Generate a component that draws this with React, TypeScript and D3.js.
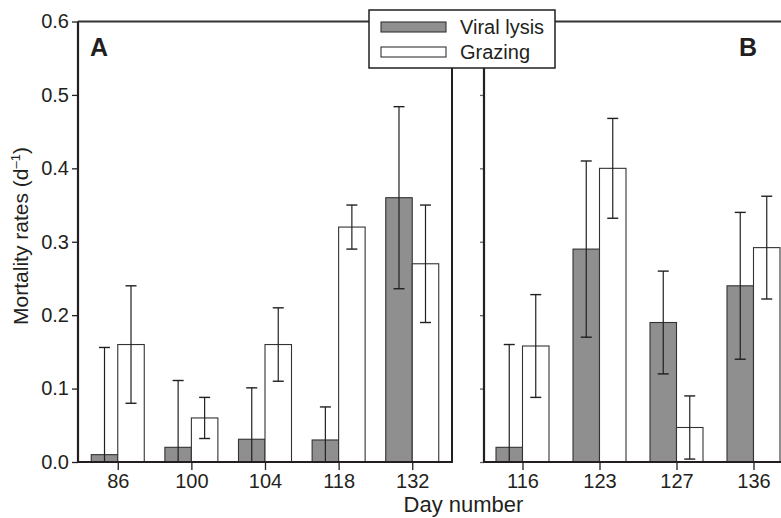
import React, { useEffect, useRef } from 'react';
import * as d3 from 'd3';

// panel A
const daysA = ['86', '100', '104', '118', '132'];
const viralA = [0.01, 0.02, 0.031, 0.03, 0.36];
const viralErrA = [0.146, 0.091, 0.07, 0.045, 0.124];
const grazingA = [0.16, 0.06, 0.16, 0.32, 0.27];
const grazingErrA = [0.08, 0.028, 0.05, 0.03, 0.08];

// panel B
const daysB = ['116', '123', '127', '136'];
const viralB = [0.02, 0.29, 0.19, 0.24];
const viralErrB = [0.14, 0.12, 0.07, 0.1];
const grazingB = [0.158, 0.4, 0.047, 0.292];
const grazingErrB = [0.07, 0.068, 0.043, 0.07];

const yTicks = [0, 0.1, 0.2, 0.3, 0.4, 0.5, 0.6];
const seriesNames = ['Viral lysis', 'Grazing'];

const FONT = '"Liberation Sans", Arial, Helvetica, sans-serif';
const GREY = '#8f8f8f';
const INK = '#231f20';

const App = () => {
  const svgRef = useRef<SVGSVGElement>(null);

  useEffect(() => {
    const svg = d3.select(svgRef.current);
    svg.selectAll('*').remove();

    const y = d3.scaleLinear().domain([0, 0.6]).range([462, 21.5]);
    const barW = 26.5;

    const panels = [
      { days: daysA, viral: viralA, viralErr: viralErrA, grazing: grazingA, grazingErr: grazingErrA, x0: 78, x1: 452, pad: 0.54, label: 'A', labelX: 90, labels: true, box: true },
      { days: daysB, viral: viralB, viralErr: viralErrB, grazing: grazingB, grazingErr: grazingErrB, x0: 484, x1: 792, pad: 0.5, label: 'B', labelX: 739, labels: false, box: false },
    ];

    panels.forEach(p => {
      const x = d3.scalePoint().domain(p.days).range([p.x0, p.x1]).padding(p.pad);
      const g = svg.append('g');

      const series = [
        { vals: p.viral, errs: p.viralErr, fill: GREY, off: -barW },
        { vals: p.grazing, errs: p.grazingErr, fill: '#fff', off: 0 },
      ];

      series.forEach(s => {
        g.selectAll(null)
          .data(p.days)
          .enter()
          .append('rect')
          .attr('x', (d) => x(d)! + s.off)
          .attr('y', (d, i) => y(s.vals[i]))
          .attr('width', barW)
          .attr('height', (d, i) => y(0) - y(s.vals[i]))
          .attr('fill', s.fill)
          .attr('stroke', '#333')
          .attr('stroke-width', 1.1);
      });

      // error bars, lower end stops at zero without a cap
      series.forEach(s => {
        p.days.forEach((d, i) => {
          const cx = x(d)! + s.off + barW / 2;
          const hi = s.vals[i] + s.errs[i];
          const lo = s.vals[i] - s.errs[i];
          g.append('line')
            .attr('x1', cx).attr('x2', cx)
            .attr('y1', y(hi)).attr('y2', y(Math.max(0, lo)))
            .attr('stroke', INK).attr('stroke-width', 1.2);
          g.append('line')
            .attr('x1', cx - 5.5).attr('x2', cx + 5.5)
            .attr('y1', y(hi)).attr('y2', y(hi))
            .attr('stroke', INK).attr('stroke-width', 1.4);
          if (lo > 0) {
            g.append('line')
              .attr('x1', cx - 5.5).attr('x2', cx + 5.5)
              .attr('y1', y(lo)).attr('y2', y(lo))
              .attr('stroke', INK).attr('stroke-width', 1.4);
          }
        });
      });

      // x axis
      const xAxis = d3.axisBottom(x).tickSize(8).tickSizeOuter(0).tickPadding(4);
      const gx = g.append('g').attr('transform', `translate(0,${y(0)})`).call(xAxis);
      gx.select('.domain').remove();
      gx.selectAll('line').attr('stroke', INK).attr('stroke-width', 1.3);
      gx.selectAll('text').attr('font-family', FONT).attr('font-size', 20).attr('fill', INK);

      // y axis (labels only on panel A)
      const yAxis = d3.axisLeft(y)
        .tickValues(yTicks)
        .tickSize(p.labels ? 6 : 4)
        .tickPadding(3)
        .tickFormat(p.labels ? d3.format('.1f') : () => '');
      const gy = g.append('g').attr('transform', `translate(${p.x0},0)`).call(yAxis);
      gy.select('.domain').remove();
      gy.selectAll('line').attr('stroke', p.labels ? INK : '#666').attr('stroke-width', 1.3);
      gy.selectAll('text').attr('font-family', FONT).attr('font-size', 20).attr('fill', INK);

      // frame
      g.append('line')
        .attr('x1', p.x0).attr('x2', p.x1)
        .attr('y1', y(0)).attr('y2', y(0))
        .attr('stroke', INK).attr('stroke-width', 2.2);
      g.append('line')
        .attr('x1', p.x0).attr('x2', p.x0)
        .attr('y1', y(0.6)).attr('y2', y(0) + 1)
        .attr('stroke', INK).attr('stroke-width', 2.2);
      g.append('line')
        .attr('x1', p.x0).attr('x2', p.x1)
        .attr('y1', y(0.6)).attr('y2', y(0.6))
        .attr('stroke', '#333').attr('stroke-width', 1.8);
      if (p.box) {
        g.append('line')
          .attr('x1', p.x1).attr('x2', p.x1)
          .attr('y1', y(0.6)).attr('y2', y(0) + 1)
          .attr('stroke', INK).attr('stroke-width', 2);
      }

      g.append('text')
        .attr('x', p.labelX).attr('y', 56)
        .attr('font-family', FONT).attr('font-size', 25).attr('font-weight', 'bold')
        .attr('fill', INK)
        .text(p.label);
    });

    // axis titles
    svg.append('text')
      .attr('x', 463.5).attr('y', 512)
      .attr('text-anchor', 'middle')
      .attr('font-family', FONT).attr('font-size', 22).attr('fill', INK)
      .text('Day number');

    const yt = svg.append('text')
      .attr('transform', 'translate(28,236) rotate(-90)')
      .attr('text-anchor', 'middle')
      .attr('font-family', FONT).attr('font-size', 21).attr('fill', INK);
    yt.append('tspan').text('Mortality rates (d');
    yt.append('tspan').attr('dy', -8).attr('font-size', 13).text('\u20131');
    yt.append('tspan').attr('dy', 8).text(')');

    // legend
    const lg = svg.append('g');
    lg.append('rect')
      .attr('x', 369).attr('y', 10).attr('width', 186).attr('height', 58)
      .attr('fill', '#fff').attr('stroke', INK).attr('stroke-width', 1.5);
    seriesNames.forEach((name, i) => {
      lg.append('rect')
        .attr('x', 381).attr('y', 22 + i * 25).attr('width', 65).attr('height', 10)
        .attr('fill', i === 0 ? GREY : '#fff')
        .attr('stroke', '#333').attr('stroke-width', 1.1);
      lg.append('text')
        .attr('x', 460).attr('y', 34 + i * 25)
        .attr('font-family', FONT).attr('font-size', 20).attr('fill', INK)
        .text(name);
    });
  }, []);

  return (
    <div style={{ position: 'absolute', left: 0, top: 0, width: 781, height: 518, background: '#fff' }}>
      <svg ref={svgRef} width={781} height={518} style={{ display: 'block' }}></svg>
    </div>
  );
};

export default App;
